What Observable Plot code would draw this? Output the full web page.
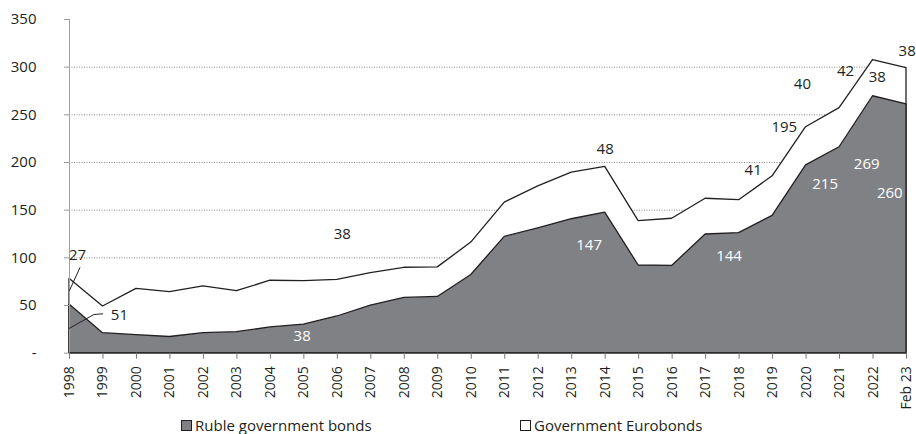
<!DOCTYPE html>
<html><head><meta charset="utf-8">
<script src="https://cdn.jsdelivr.net/npm/d3@7"></script>
<script src="https://cdn.jsdelivr.net/npm/@observablehq/plot@0.6"></script>
<style>
body{margin:0;background:#fff;font-family:"Open Sans",sans-serif;color:#231f20;}
#legend{position:relative;width:916px;height:22px;font-size:15px;}
#legend .sw{position:absolute;width:11px;height:11px;border:1px solid #231f20;box-sizing:border-box;}
#legend .tx{position:absolute;line-height:22px;white-space:nowrap;}
</style></head><body>
<div id="chart"></div>
<div id="legend"></div>
<script>
// Periods (x axis tick labels)
const periods = ["1998","1999","2000","2001","2002","2003","2004","2005","2006","2007","2008","2009","2010","2011","2012","2013","2014","2015","2016","2017","2018","2019","2020","2021","2022","Feb 23"];
// Ruble government bonds
const rubleBonds = [51,21,19,17,21,22,27,30,38.5,50,58,59,82,122,131,140.5,147.5,92,91.5,124.5,126,144,197,216,269.5,261];
// Government Eurobonds
const euroBonds = [27,28,48.5,47,49,43,49,45.5,38.5,34,31.6,31,34,36,44,49,48,46.5,49.5,37.5,34.5,41.5,40,41,38,38];
// Series names
const seriesNames = ["Ruble government bonds","Government Eurobonds"];
// Y axis ticks
const yTicks = [0,50,100,150,200,250,300,350];
const gridValues = [100,150,200,250,300];
// Value annotations (x as period index, y in chart units)
const annoText  = ["27","51","38","38","147","48","144","41","195","40","215","42","269","38","260","38"];
const annoX     = [0.24,1.49,8.15,6.95,15.52,16.0,19.70,20.42,21.35,21.89,22.57,23.18,23.81,24.13,24.50,25.02];
const annoY     = [102.5,39.5,124.5,17.8,113.7,213.7,101.4,192.4,237,281.8,177.3,296.2,198.7,289.9,167.8,316.8];
const annoWhite = [false,false,false,true,true,false,true,false,false,false,true,false,true,false,true,false];
// Leader lines for 1998 labels
const leader27X = [0,0.31], leader27Y = [65.8,89.6];
const leader51X = [0,0.73,0.99], leader51Y = [26.2,40.6,41.3];

const data = periods.map((p,i)=>({i, period:p, ruble:rubleBonds[i], total:rubleBonds[i]+euroBonds[i]}));
const annos = annoText.map((t,k)=>({text:t, x:annoX[k], y:annoY[k], white:annoWhite[k]}));
const leader27 = leader27X.map((x,k)=>({x, y:leader27Y[k]}));
const leader51 = leader51X.map((x,k)=>({x, y:leader51Y[k]}));

const ink = "#231f20";
const chart = Plot.plot({
  width: 916, height: 412,
  marginLeft: 69, marginRight: 10, marginTop: 19, marginBottom: 59.3,
  style: {fontFamily: '"Open Sans", sans-serif', fontSize: "15px", color: ink, background: "#fff", overflow: "visible"},
  x: {type: "linear", domain: [0, periods.length - 1]},
  y: {domain: [0, 350]},
  marks: [
    Plot.ruleY(gridValues, {stroke: "#8a8a8a", strokeDasharray: "1,1.5", strokeWidth: 1}),
    Plot.areaY(data, {x: "i", y: "total", fill: "#fff", stroke: ink, strokeWidth: 1.3}),
    Plot.areaY(data, {x: "i", y: "ruble", fill: "#808185", stroke: ink, strokeWidth: 1.3}),
    Plot.ruleX([0], {y1: 0, y2: 350, stroke: "#a0a0a0"}),
    Plot.ruleY([0], {stroke: "#444"}),
    Plot.axisY({ticks: yTicks, tickSize: 5, tickPadding: 28, tickFormat: d => d === 0 ? "-" : String(d), stroke: "#999", fill: ink, label: null}),
    Plot.axisX({ticks: d3.range(periods.length), tickSize: 6, tickPadding: 7, tickRotate: -90, tickFormat: i => periods[i], stroke: "#777", fill: ink, fontSize: 14, label: null}),
    Plot.line(leader27, {x: "x", y: "y", stroke: ink, strokeWidth: 1}),
    Plot.line(leader51, {x: "x", y: "y", stroke: ink, strokeWidth: 1}),
    Plot.text(annos, {x: "x", y: "y", text: "text", fill: d => d.white ? "#fff" : ink, fontSize: 15})
  ]
});
document.getElementById("chart").appendChild(chart);

const legend = document.getElementById("legend");
const items = [
  {name: seriesNames[0], fill: "#808185", sw: 181, tx: 195},
  {name: seriesNames[1], fill: "#fff", sw: 520, tx: 534}
];
for (const it of items) {
  const s = document.createElement("div");
  s.className = "sw"; s.style.left = it.sw + "px"; s.style.top = "8px"; s.style.background = it.fill;
  const t = document.createElement("div");
  t.className = "tx"; t.style.left = it.tx + "px"; t.style.top = "2px"; t.textContent = it.name;
  legend.appendChild(s); legend.appendChild(t);
}
</script>
</body></html>
